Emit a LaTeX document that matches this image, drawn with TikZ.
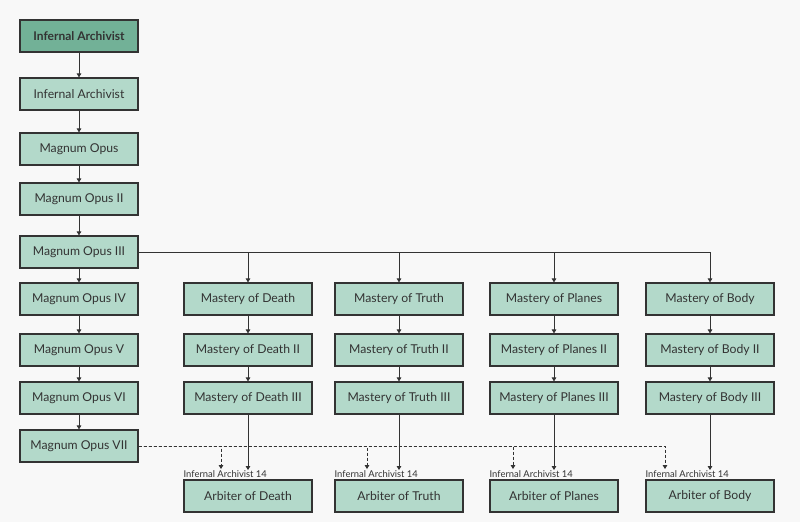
\documentclass[tikz,border=0pt]{standalone}
\usepackage{fontspec}
\setmainfont{Lato}
\usetikzlibrary{arrows.meta}
\definecolor{rootfill}{HTML}{72B197}
\definecolor{nodefill}{HTML}{B3D9CA}
\definecolor{edgegray}{HTML}{333333}
\definecolor{paper}{HTML}{F8F8F8}
\begin{document}
\begin{tikzpicture}[x=1pt,y=-1pt,>={Triangle[length=4pt,width=4.5pt]},
  box/.style={draw=edgegray,line width=1.1pt,fill=nodefill,minimum height=32pt,inner sep=0pt,text=edgegray,font=\fontsize{12.2}{14}\selectfont},
  tag/.style={inner sep=0pt,text=edgegray,font=\fontsize{9.4}{10}\selectfont},
  link/.style={draw=edgegray,line width=0.9pt,->},
  maybe/.style={link,dash pattern=on 3pt off 2pt}]
\fill[paper] (0,0) rectangle (800,522);
\useasboundingbox (0,0) rectangle (800,522);
% main line
\node[box,fill=rootfill,minimum width=118pt,font=\fontsize{12}{14}\selectfont\bfseries] (l1) at (79,36) {Infernal Archivist};
\foreach \i/\y/\t in {2/94/Infernal Archivist,3/149/Magnum Opus,4/199/Magnum Opus II,5/252/Magnum Opus III,6/299/Magnum Opus IV,7/350/Magnum Opus V,8/398/Magnum Opus VI,9/446/Magnum Opus VII}
  \node[box,minimum width=118pt] (l\i) at (79,\y) {\t};
\foreach \a/\b in {1/2,2/3,3/4,4/5,5/6,6/7,7/8,8/9} \draw[link] (l\a) -- (l\b);
% branches
\foreach \n/\lab/\x/\dx in {death/Death/248/221,truth/Truth/399/367,planes/Planes/554/513,body/Body/710/665}{
  \node[box,minimum width=128pt] (\n1) at (\x,299) {Mastery of \lab};
  \node[box,minimum width=128pt] (\n2) at (\x,350) {Mastery of \lab\ II};
  \node[box,minimum width=128pt] (\n3) at (\x,398) {Mastery of \lab\ III};
  \node[box,minimum width=128pt] (\n4) at (\x,496) {Arbiter of \lab};
  \node[tag,anchor=south west] (\n5) at ([yshift=2pt]\n4.north west) {Infernal Archivist 14};
  \coordinate (\n t) at (\dx,446);
  \draw[link] (l5.east) -| (\n1.north);
  \draw[link] (\n1) -- (\n2);
  \draw[link] (\n2) -- (\n3);
  \draw[link] (\n3.south) -- (\n3.south |- \n5.north);
  \draw[maybe] (l9.east) -| ([yshift=1pt]\n t |- \n5.north);}
\end{tikzpicture}
\end{document}
